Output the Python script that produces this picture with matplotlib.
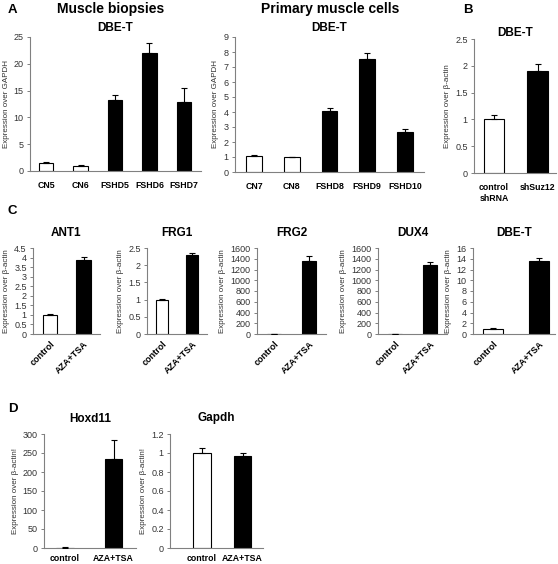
import matplotlib
matplotlib.use('Agg')
import matplotlib.pyplot as plt
import numpy as np

plt.rcParams['font.family'] = ['Liberation Sans', 'DejaVu Sans']

W, H = 558, 564

# --- data ---
# A: muscle biopsies
biopsy_names = ["CN5", "CN6", "FSHD5", "FSHD6", "FSHD7"]
biopsy_vals = [1.4, 0.9, 13.2, 22.1, 12.9]
biopsy_err = [0.2, 0.15, 1.0, 1.7, 2.6]
# A: primary muscle cells
cells_names = ["CN7", "CN8", "FSHD8", "FSHD9", "FSHD10"]
cells_vals = [1.1, 1.0, 4.1, 7.55, 2.7]
cells_err = [0.05, 0.02, 0.15, 0.4, 0.15]
# B: knockdown
kd_names = ["control\nshRNA", "shSuz12"]
kd_vals = [1.0, 1.91]
kd_err = [0.09, 0.13]
# C: AZA+TSA treatment
treat_names = ["control", "AZA+TSA"]
ant1_vals, ant1_err = [1.0, 3.85], [0.05, 0.2]
frg1_vals, frg1_err = [1.0, 2.3], [0.02, 0.05]
frg2_vals, frg2_err = [1.0, 1350], [0.0, 100]
dux4_vals, dux4_err = [1.0, 1280], [0.0, 55]
dbet_vals, dbet_err = [1.0, 13.5], [0.15, 0.7]
# D
hoxd_vals, hoxd_err = [1.0, 235], [0.5, 48]
gapdh_vals, gapdh_err = [1.0, 0.965], [0.05, 0.03]

fig = plt.figure(figsize=(W / 100, H / 100), dpi=100)


def panel(box, centers, names, vals, errs, title, ylabel, yticks, rotate=False,
          width=0.42, title_pad=4, xpad=7):
    l, t, r, b = box          # pixel box, origin at top-left
    ax = fig.add_axes([l / W, 1 - b / H, (r - l) / W, (b - t) / H])
    x = np.arange(len(names))
    colors = ['white' if n.startswith(('CN', 'control')) else 'black' for n in names]
    ax.bar(x, vals, width, color=colors, edgecolor='black', linewidth=0.8, zorder=2)
    ax.errorbar(x, vals, yerr=[np.zeros(len(vals)), errs], fmt='none', ecolor='black',
                elinewidth=0.8, capsize=2, capthick=0.8, zorder=3)
    s = centers[1] - centers[0]
    ax.set_xlim((l - centers[0]) / s, (r - centers[0]) / s)
    ax.set_ylim(yticks[0], yticks[-1])
    ax.set_yticks(yticks)
    ax.set_yticklabels([f'{v:g}' for v in yticks], fontsize=6.5, color='#333333')
    ax.set_xticks(x)
    if rotate:
        ax.set_xticklabels(names, rotation=45, ha='right', rotation_mode='anchor',
                           fontsize=6.5, fontweight='bold')
    else:
        ax.set_xticklabels(names, fontsize=6.3, fontweight='bold', linespacing=1.3)
    ax.tick_params(axis='x', length=0, pad=xpad)
    ax.tick_params(axis='y', length=2.5, width=0.7, color='#808080', pad=2)
    for sp in ['top', 'right']:
        ax.spines[sp].set_visible(False)
    for sp in ['left', 'bottom']:
        ax.spines[sp].set_color('#808080')
        ax.spines[sp].set_linewidth(0.8)
    ax.set_ylabel(ylabel, fontsize=5.8, color='#333333', labelpad=3)
    ax.set_title(title, fontsize=8.5, fontweight='bold', pad=title_pad)
    return ax


gapdh_lbl = "Expression over GAPDH"
actin_lbl = "Expression over \u03b2-actin"
actin_lbl_d = "Expression over \u03b2-actin!"

# row A
panel((30, 37, 201, 171), (46, 80.5), biopsy_names, biopsy_vals, biopsy_err,
      "DBE-T", gapdh_lbl, [0, 5, 10, 15, 20, 25], title_pad=4)
panel((235, 37, 424, 172), (254, 291.75), cells_names, cells_vals, cells_err,
      "DBE-T", gapdh_lbl, list(range(10)), title_pad=4)
panel((474, 39, 556, 173), (494, 537.5), kd_names, kd_vals, kd_err,
      "DBE-T", actin_lbl, [0, 0.5, 1, 1.5, 2, 2.5], width=0.46, title_pad=1)

# row C
panel((33, 248, 100, 334), (50, 83.5), treat_names, ant1_vals, ant1_err,
      "ANT1", actin_lbl, [i * 0.5 for i in range(10)], rotate=True, title_pad=9, xpad=4)
panel((147, 248, 207, 334), (162, 192), treat_names, frg1_vals, frg1_err,
      "FRG1", actin_lbl, [i * 0.5 for i in range(6)], rotate=True, title_pad=9, xpad=4)
panel((257, 248, 326, 334), (274, 309), treat_names, frg2_vals, frg2_err,
      "FRG2", actin_lbl, list(range(0, 1601, 200)), rotate=True, title_pad=9, xpad=4)
panel((378, 248, 447, 334), (395, 430), treat_names, dux4_vals, dux4_err,
      "DUX4", actin_lbl, list(range(0, 1601, 200)), rotate=True, title_pad=9, xpad=4)
panel((473, 248, 555, 334), (493, 539), treat_names, dbet_vals, dbet_err,
      "DBE-T", actin_lbl, list(range(0, 17, 2)), rotate=True, title_pad=9, xpad=4)

# row D
panel((44, 434, 136, 548), (65, 113.5), treat_names, hoxd_vals, hoxd_err,
      "Hoxd11", actin_lbl_d, list(range(0, 301, 50)), width=0.36, title_pad=9, xpad=4)
panel((170, 434, 263, 548), (202, 242.5), treat_names, gapdh_vals, gapdh_err,
      "Gapdh", actin_lbl_d, [0, 0.2, 0.4, 0.6, 0.8, 1, 1.2], width=0.42,
      title_pad=9, xpad=4)

# panel letters and headers
for letter, (px, py) in {"A": (8, 10), "B": (463, 10), "C": (8, 211), "D": (8, 409)}.items():
    fig.text(px / W, 1 - py / H, letter, fontsize=9.5, fontweight='bold', va='center')
fig.text(111 / W, 1 - 9 / H, "Muscle biopsies", fontsize=10, fontweight='bold',
         ha='center', va='center')
fig.text(330 / W, 1 - 9 / H, "Primary muscle cells", fontsize=10, fontweight='bold',
         ha='center', va='center')

fig.savefig("out.png", dpi=100)
